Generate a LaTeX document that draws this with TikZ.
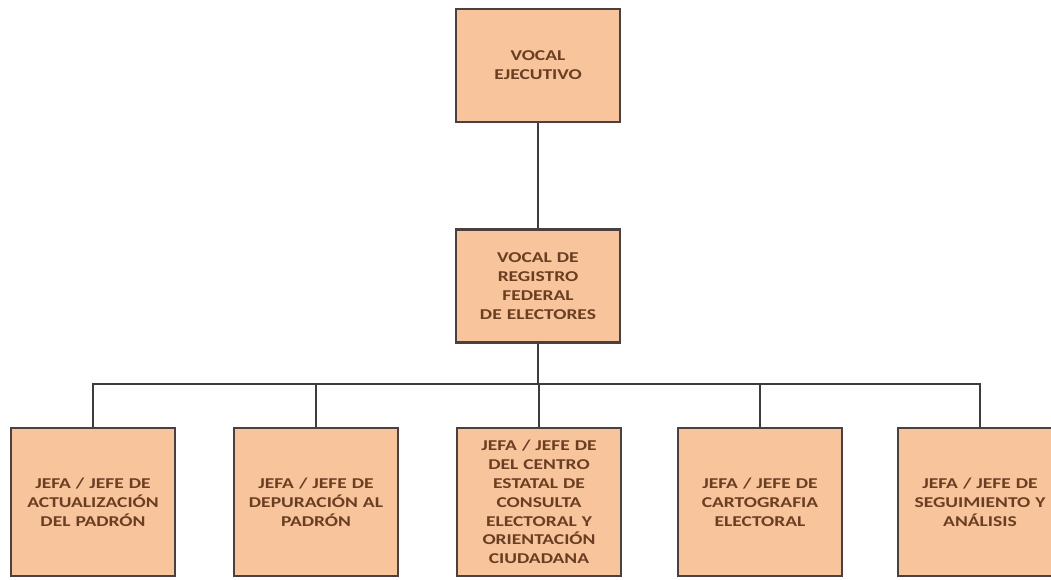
\documentclass[tikz,border=0pt]{standalone}
\usepackage{fontspec}
\setmainfont{Carlito}[FakeStretch=1.3]
\definecolor{boxfill}{HTML}{F8C49C}
\definecolor{boxline}{HTML}{4A4040}
\definecolor{boxtext}{HTML}{6A3E22}
\definecolor{wire}{HTML}{3C3C3C}
\begin{document}
\begin{tikzpicture}[x=1pt,y=-1pt,
  orgbox/.style={draw=boxline, line width=2.4pt, fill=boxfill, inner sep=0pt,
    minimum width=164pt, text width=156pt, align=center,
    font=\fontsize{15}{18.8}\selectfont\bfseries, text=boxtext},
  topbox/.style={orgbox, minimum height=113pt},
  lowbox/.style={orgbox, minimum height=148pt},
  wireline/.style={draw=wire, line width=2.2pt}]
\clip (0,0) rectangle (1051,579);
\fill[white] (0,0) rectangle (1051,579);
\node[topbox] (top) at (538,65.5) {VOCAL\\EJECUTIVO};
\node[topbox] (mid) at (538,286) {VOCAL DE\\REGISTRO\\FEDERAL\\DE ELECTORES};
\node[lowbox] (b1) at (93,502) {JEFA / JEFE DE\\ACTUALIZACIÓN\\DEL PADRÓN};
\node[lowbox] (b2) at (316,502) {JEFA / JEFE DE\\DEPURACIÓN AL\\PADRÓN};
\node[lowbox] (b3) at (539,502) {JEFA / JEFE DE\\DEL CENTRO\\ESTATAL DE\\CONSULTA\\ELECTORAL Y\\ORIENTACIÓN\\CIUDADANA};
\node[lowbox] (b4) at (760,502) {JEFA / JEFE DE\\CARTOGRAFIA\\ELECTORAL};
\node[lowbox] (b5) at (980,502) {JEFA / JEFE DE\\SEGUIMIENTO Y\\ANÁLISIS};
\coordinate (hub) at (538,384);
\draw[wireline] (top.south) -- (mid.north);
\draw[wireline] (mid.south) -- (hub);
\draw[wireline] (b1.north) -- (b1.north |- hub) -- (b5.north |- hub) -- (b5.north);
\draw[wireline] (b2.north) -- (b2.north |- hub);
\draw[wireline] (b3.north) -- (b3.north |- hub);
\draw[wireline] (b4.north) -- (b4.north |- hub);
\end{tikzpicture}
\end{document}
